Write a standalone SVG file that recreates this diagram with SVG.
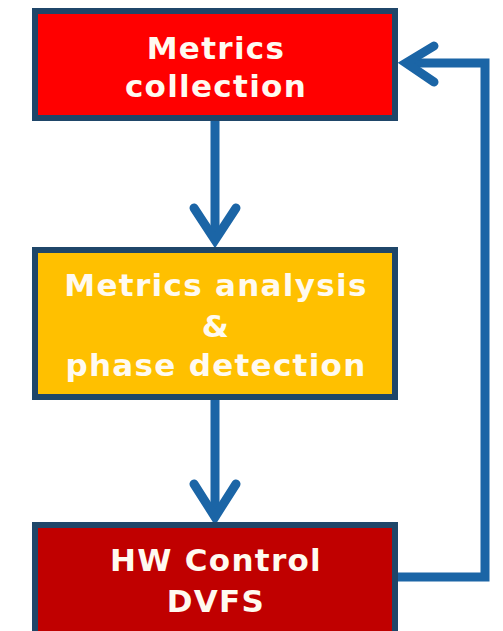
<svg xmlns="http://www.w3.org/2000/svg" width="503" height="631" viewBox="0 0 503 631">
<style>
.box{stroke:#1f4669;stroke-width:6}
.t{font-family:"DejaVu Sans",Verdana,sans-serif;font-weight:bold;font-size:31px;letter-spacing:1.3px;fill:#fffaf0;text-anchor:middle}
.c{fill:none;stroke:#1b65a6;stroke-width:9;stroke-linejoin:miter}
.h{fill:none;stroke:#1b65a6;stroke-width:9;stroke-linecap:round;stroke-linejoin:miter}
</style>
<rect width="503" height="631" fill="#ffffff"/>
<g id="connectors">
<line class="c" x1="215" y1="121" x2="215" y2="240"/>
<polyline class="h" points="194,208 215,240 236,208"/>
<line class="c" x1="215" y1="400" x2="215" y2="517"/>
<polyline class="h" points="194,484 215,517 236,484"/>
<polyline class="c" points="398,577 485,577 485,63 406,63"/>
<polyline class="h" points="434,46 406,63 434,82"/>
</g>
<g id="metrics-collection">
<rect class="box" x="35" y="11" width="360" height="107" fill="#ff0000"/>
<text class="t" x="216" y="59">Metrics</text>
<text class="t" x="216" y="97">collection</text>
</g>
<g id="metrics-analysis">
<rect class="box" x="35" y="250" width="360" height="147" fill="#ffc000"/>
<text class="t" x="216" y="296">Metrics analysis</text>
<text class="t" x="216" y="337">&amp;</text>
<text class="t" x="216" y="376">phase detection</text>
</g>
<g id="hw-control">
<rect class="box" x="35" y="525" width="360" height="120" fill="#c00000"/>
<text class="t" x="216" y="571">HW Control</text>
<text class="t" x="216" y="612">DVFS</text>
</g>
</svg>
